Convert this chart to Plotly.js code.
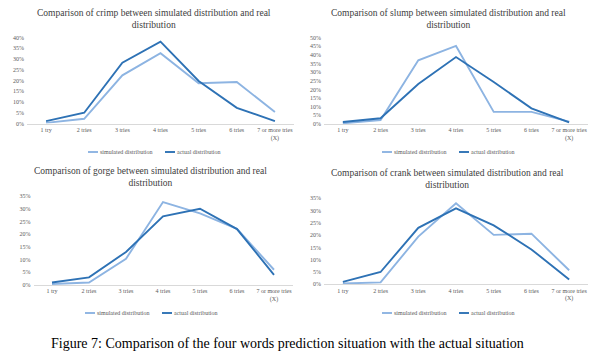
<!DOCTYPE html>
<html>
<head>
<meta charset="utf-8">
<script src="https://cdn.plot.ly/plotly-3.0.1.min.js"></script>
<style>html,body{margin:0;padding:0;background:#fff;}#chart{width:600px;height:358px;}</style>
</head>
<body>
<div id="chart"></div>
<script>
// ---- data ----
const categories = ['1 try', '2 tries', '3 tries', '4 tries', '5 tries', '6 tries', '7 or more tries<br>(X)'];
const crimpSimulated = [0.003, 0.022, 0.224, 0.327, 0.187, 0.193, 0.053];
const crimpActual    = [0.011, 0.050, 0.283, 0.381, 0.198, 0.073, 0.011];
const slumpSimulated = [0.004, 0.023, 0.369, 0.452, 0.070, 0.070, 0.014];
const slumpActual    = [0.012, 0.033, 0.232, 0.388, 0.243, 0.091, 0.010];
const gorgeSimulated = [0.004, 0.010, 0.103, 0.326, 0.282, 0.221, 0.060];
const gorgeActual    = [0.010, 0.030, 0.130, 0.270, 0.300, 0.220, 0.040];
const crankSimulated = [0.003, 0.008, 0.194, 0.330, 0.201, 0.206, 0.057];
const crankActual    = [0.010, 0.050, 0.230, 0.309, 0.240, 0.142, 0.020];
const seriesNames = ['simulated distribution', 'actual distribution'];
const panelTitles = [
  'Comparison of crimp between simulated distribution and real<br>distribution',
  'Comparison of slump between simulated distribution and real<br>distribution',
  'Comparison of gorge between simulated distribution and real<br>distribution',
  'Comparison of crank between simulated distribution and real<br>distribution'
];
const yMax = [0.40, 0.50, 0.35, 0.35];
const caption = 'Figure 7: Comparison of the four words prediction situation with the actual situation';

// ---- layout helpers (pixels -> paper) ----
const W = 600, H = 358;
const px = v => v / W;
const py = v => 1 - v / H;
const LIGHT = '#8db4e2', DARK = '#2e72b5';
const FONT = 'Liberation Serif, Times New Roman, serif';

const panels = [
  {x0: 27,  x1: 294, yb: 123.5, yt: 37.5, tx: 154, ty: 19, ly: 152, lx: 88},
  {x0: 324, x1: 588, yb: 124,   yt: 37.7, tx: 448, ty: 19, ly: 152, lx: 382},
  {x0: 33.5,x1: 292.5, yb: 285, yt: 196,  tx: 150, ty: 177, ly: 313, lx: 85},
  {x0: 324, x1: 588, yb: 284.3, yt: 198.3, tx: 447, ty: 179, ly: 313, lx: 382}
];
const data = [
  [crimpSimulated, crimpActual],
  [slumpSimulated, slumpActual],
  [gorgeSimulated, gorgeActual],
  [crankSimulated, crankActual]
];

const traces = [];
const layout = {
  width: W, height: H,
  margin: {l: 0, r: 0, t: 0, b: 0},
  paper_bgcolor: '#fff', plot_bgcolor: 'rgba(0,0,0,0)',
  showlegend: false,
  font: {family: FONT, color: '#595959', size: 6},
  annotations: [], shapes: []
};

panels.forEach((p, i) => {
  const n = i + 1;
  const xa = 'xaxis' + (n === 1 ? '' : n), ya = 'yaxis' + (n === 1 ? '' : n);
  const xr = 'x' + (n === 1 ? '' : n), yr = 'y' + (n === 1 ? '' : n);
  layout[xa] = {
    domain: [px(p.x0), px(p.x1)], anchor: yr,
    type: 'category', range: [-0.5, 6.5],
    showgrid: false, zeroline: false,
    showline: true, linecolor: '#d9d9d9', linewidth: 1,
    ticks: '', tickfont: {family: FONT, size: 6, color: '#595959'},
    tickangle: 0, fixedrange: true
  };
  layout[ya] = {
    domain: [py(p.yb), py(p.yt)], anchor: xr,
    range: [0, yMax[i]], dtick: 0.05, tickformat: '.0%',
    showgrid: false, zeroline: false, showline: false,
    ticks: '', tickfont: {family: FONT, size: 6, color: '#595959'},
    ticklabelstandoff: 2, fixedrange: true
  };
  [LIGHT, DARK].forEach((c, k) => {
    traces.push({
      type: 'scatter', mode: 'lines', x: categories, y: data[i][k],
      name: seriesNames[k], xaxis: xr, yaxis: yr,
      line: {color: c, width: 1.9}, hoverinfo: 'skip'
    });
  });
  layout.annotations.push({
    xref: 'paper', yref: 'paper', x: px(p.tx), y: py(p.ty),
    xanchor: 'center', yanchor: 'middle', showarrow: false,
    text: panelTitles[i], font: {family: FONT, size: 9.5, color: '#404040'}
  });
  const segs = [[p.lx, LIGHT, seriesNames[0]], [p.lx + 77, DARK, seriesNames[1]]];
  segs.forEach(s => {
    layout.shapes.push({type: 'line', xref: 'paper', yref: 'paper',
      x0: px(s[0]), x1: px(s[0] + 10), y0: py(p.ly), y1: py(p.ly),
      line: {color: s[1], width: 1.9}});
    layout.annotations.push({xref: 'paper', yref: 'paper', x: px(s[0] + 10), y: py(p.ly),
      xanchor: 'left', yanchor: 'middle', showarrow: false, text: s[2],
      font: {family: FONT, size: 6, color: '#595959'}});
  });
});

layout.annotations.push({
  xref: 'paper', yref: 'paper', x: px(287), y: py(343),
  xanchor: 'center', yanchor: 'middle', showarrow: false,
  text: caption, font: {family: FONT, size: 14, color: '#000'}
});

Plotly.newPlot('chart', traces, layout, {displayModeBar: false, staticPlot: true});
</script>
</body>
</html>
